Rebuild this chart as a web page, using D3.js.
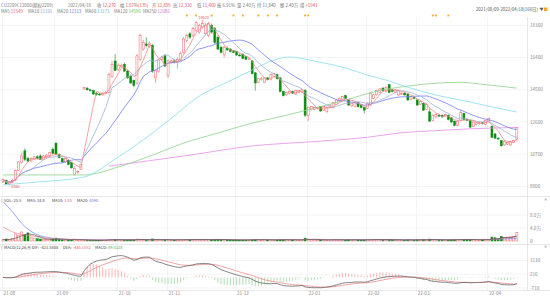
<!DOCTYPE html>
<html><head><meta charset="utf-8">
<script src="https://cdn.jsdelivr.net/npm/d3@7/dist/d3.min.js"></script>
<style>
body{margin:0;background:#fff}
svg{display:block;font-family:"Noto Sans CJK SC","Noto Sans",sans-serif}
</style>
</head><body>
<svg id="chart" width="550" height="297"></svg>
<script>
// daily OHLC, 2021/08/09 - 2022/04/18
const open = [9100,9150,8950,9050,9150,9750,10200,10900,10450,10300,10400,10550,10600,10400,10550,10600,11000,11350,10700,10450,10250,10350,10200,9500,9650,9800,
  14550,14600,14500,14450,14300,14250,14200,14300,14350,15300,16200,15700,15850,16000,15600,15300,15050,14900,16300,16900,17200,17050,17100,15200,15600,16300,16500,15350,16100,16200,16100,16250,16700,17400,17800,17700,18000,17900,18200,17800,17700,18300,18100,17600,17000,16600,16950,16900,16800,16750,16550,16600,16450,16300,
  16200,15500,14950,15100,14950,15200,15100,15300,15400,15200,14400,14200,14300,14400,14250,14350,14350,14450,13000,13350,13350,13400,13500,13300,13200,13450,13450,13650,13850,13950,14150,13900,13550,13500,13750,13600,13450,13400,13600,14000,
  14200,14350,14600,14400,14800,14500,14350,14200,14250,14300,14250,13950,14050,13900,13650,13700,13350,13200,12700,12900,13000,13000,12950,13000,12850,12650,12400,12700,13100,12750,12700,12350,12450,12500,12550,12450,12650,12350,11900,11650,11500,11250,11300,11250,11400,11600];
const high = [9250,9200,9100,9250,9800,10300,10800,11050,10550,10500,10600,10650,10700,10650,10700,10850,11100,11450,10750,10500,10500,10400,10250,10000,9750,10150,
  14650,14650,14550,14500,14350,14300,14350,14450,15500,16200,16600,16050,16050,16100,15700,15400,15100,16600,17800,17450,17600,17350,17200,15700,16350,16500,16600,16300,16300,16300,16400,16750,17600,17800,17900,18200,18550,18400,18620,18450,18500,18400,18200,17700,17100,17100,17050,16950,16850,16800,16650,16650,16500,16400,
  16250,15550,15200,15250,15250,15250,15450,15500,15450,15250,14450,14400,14450,14450,14500,14500,14550,14550,13500,13550,13500,13500,13550,13550,13500,13650,13800,13950,14050,14150,14200,13950,13750,13800,13800,13650,13500,13750,14350,14250,
  14500,14600,14650,14700,14850,14550,14550,14500,14350,14350,14300,14150,14100,13950,13850,13750,13700,13400,13050,13100,13050,13050,13100,13050,12900,12700,12700,13300,13150,12800,12750,12650,12600,12600,12600,12750,12850,12400,11950,11700,11550,11500,11450,11500,11550,12310];
const low = [9000,8900,8850,9000,9100,9700,10150,10300,10250,10250,10350,10400,10350,10350,10450,10550,10700,10650,10450,10200,10200,10050,9850,9450,9550,9750,
  14500,14450,14400,14200,14150,14150,14150,14250,14300,15200,15600,15600,15800,15550,15150,14850,14650,14800,16200,16800,17000,16950,15500,14900,15500,16200,15850,15200,16000,16050,15750,16200,16600,17300,17500,17600,17900,17800,18100,17700,17600,17800,17200,16850,16650,16400,16800,16700,16650,16500,16450,16300,16250,16250,
  15400,14450,14900,15050,14900,15050,15050,15250,15100,14350,14100,14150,14250,14250,14200,14300,14300,12900,12650,13300,13300,13350,13200,13250,13150,13400,13400,13600,13800,13900,13950,13550,13500,13450,13450,13400,13100,13350,13550,13950,
  14150,14300,14400,14350,14300,14350,14300,14150,14200,14150,13850,13900,13950,13550,13600,13250,13300,12600,12650,12850,12900,12850,12900,12700,12550,12350,12350,12650,12700,12650,12250,12300,12400,12450,12450,12400,12600,11650,11600,11550,11150,11200,11250,11200,11350,11460];
const close = [9200,8950,9050,9150,9750,10250,10600,10400,10300,10450,10550,10450,10400,10600,10650,10800,10750,10700,10500,10250,10450,10100,9900,9850,9700,10100,
  14620,14500,14450,14250,14230,14200,14280,14350,15400,16000,15650,15950,15950,15600,15200,14900,14750,16500,17700,17300,17100,17250,15600,15650,16250,16400,15900,16200,16200,16150,16300,16650,17500,17700,17600,18100,18450,18300,18400,18300,18400,17900,17300,16900,16700,17000,16850,16750,16700,16550,16500,16350,16300,16320,
  15450,14900,15150,15150,15200,15100,15400,15450,15150,14400,14150,14350,14400,14300,14450,14450,14500,13000,13450,13500,13450,13450,13250,13500,13450,13600,13750,13900,14000,14100,14000,13600,13700,13750,13500,13450,13300,13700,14300,14200,
  14450,14550,14450,14650,14350,14400,14500,14450,14300,14200,13900,14100,14000,13600,13800,13300,13650,12650,13000,13050,12950,12900,13050,12750,12600,12400,12650,13150,12750,12700,12300,12600,12550,12550,12500,12700,12800,11700,11650,11600,11200,11450,11400,11450,11500,12270];
const volume = [4000,6000,5000,8000,22000,18000,28000,20000,25000,12000,9000,7000,6000,5000,4000,5000,6000,9000,5000,4000,3000,3500,4000,6000,3000,3500,
  2500,1500,1800,2500,2000,1800,2000,2500,5000,5500,4500,3000,2500,3000,3500,4000,3500,6000,5500,4000,3000,3000,6500,4500,4000,3000,3500,5000,3000,2500,3500,4000,5000,4500,3500,4000,5000,4500,4000,4500,4000,3500,5000,5500,4000,4000,3000,2500,3000,3500,2500,3000,2500,2500,
  5000,5500,4000,3000,3500,3000,3500,3000,3000,5000,4500,3500,3000,3000,3500,3000,3500,9000,6000,4000,3500,3000,3500,3500,3000,3500,4000,4000,3500,3500,3000,4000,3000,3500,3500,3000,3500,4000,5500,4000,
  4500,4000,3500,4000,5000,3500,3000,3500,3000,2500,4000,3500,3000,4000,3500,4500,3500,6000,5000,3500,3000,3000,3000,3500,4000,4500,4000,5500,4500,3000,5000,4500,3500,3000,3500,4500,4000,12000,10000,6000,14000,11000,12000,13000,15000,25500];

// long moving averages as [candle index, value]
const ma60Pts = [[0,8890],[10,9050],[26,9360],[37,10540],[45,11540],[53,12660],[63,14130],[72,14950],[80,15660],[87,16250],[92,16430],[100,16190],[110,15780],[117,15370],[123,15070],[130,14650],[140,14150],[150,13780],[158,13450],[165,13190]];
const ma120Pts = [[0,9480],[26,9480],[37,9950],[48,10650],[58,11360],[69,11950],[80,12540],[90,12950],[100,13420],[110,13895],[120,14420],[130,14720],[140,14900],[147,14940],[155,14800],[165,14600]];
const ma250Pts = [[34,10000],[60,10650],[80,11190],[100,11450],[117,11700],[127,11950],[140,12100],[150,12200],[165,12280]];
const volMa10Pts = [[0,43000],[4,25000],[8,18000],[13,10000],[20,5000],[30,3500],[60,4000],[97,4500],[130,3500],[156,5000],[165,14000]];
const volMa20Pts = [[0,121000],[3,90000],[6,54000],[10,24000],[15,10000],[21,5000],[30,4000],[60,4200],[100,4300],[130,3800],[156,4500],[165,8600]];

const monthIdx = [0,17,37,53,75,98,117,133,156];
const monthLabels = ["21-08","21-09","21-10","21-11","21-12","22-01","22-02","22-03","22-04"];
const priceTicks = [8800,10700,12600,14500,16400,18300];
const volTicks = [0,40000,80000];
const volTickLabels = ["0","4.0万","8.0万"];
const macdTicks = [-710,210,1130];
const eventIdx = [59,62,67,74,77,82,85,88,97,98,138,139,143];

// header quote line: [x, label, value, value colour]
const quoteItems = [[1,"CU2209C12000(期权2209)","", "g"],[68,"2022/04/18","","g"],[97,"收","12,270","r"],[120,"幅","1.07%(135)","r"],
  [152,"开","11,895","r"],[173,"高","12,310","r"],[197,"低","11,460","r"],[217,"振","6.91%","g"],[237,"量","2.40万","g"],
  [257,"持","11,840","g"],[280,"额","2.40万","g"],[300,"增","+1941","r"]];
const maItems = [[1,"MA5","11549","#e8606a"],[28,"MA10","11101","#8fa3d0"],[57,"MA20","12113","#5f6ff0"],
  [85,"MA60","13173","#5cc8e8"],[114,"MA120","14596","#5cbf5c"],[143,"MA250","12086","#d070d8"]];
const volItems = [[4,"VOL:","25.5","#444"],[27,"MA5:","18.8","#444"],[52,"MA10:","1.85","#e8606a"],[77,"MA20:","8590","#5f6ff0"]];
const macdItems = [[4,"MACD(12,26,9) DIF:","-421.5888","#444"],[63,"DEA:","-446.1052","#e8606a"],[95,"MACD:","49.0328","#4caf50"]];

const N = close.length;
const RED = "#f25f66", GREEN = "#0e8c15";
const svg = d3.select("#chart");

const x = d3.scaleBand().domain(d3.range(N)).range([1.5, 518.4]);
const cx = i => x(i) + x.bandwidth() / 2;
const bw = 2;
const yP = d3.scaleLinear().domain([8800, 18300]).range([186.5, 25.3]);
const yV = d3.scaleLinear().domain([0, 40000]).range([241, 228]);
const yM = d3.scaleLinear().domain([-710, 1130]).range([288, 260.5]);

const PR = 527; // right edge of plots

function sma(arr, n) {
  return arr.map((_, i) => d3.mean(arr.slice(Math.max(0, i - n + 1), i + 1)));
}

// MACD from closes
let e12 = close[0], e26 = close[0], dea = 0;
const dif = [], deaArr = [], hist = [];
close.forEach(c => {
  e12 = e12 * 11 / 13 + c * 2 / 13;
  e26 = e26 * 25 / 27 + c * 2 / 27;
  const d = e12 - e26;
  dea = dea * 8 / 10 + d * 2 / 10;
  dif.push(d); deaArr.push(dea); hist.push(2 * (d - dea));
});

// grid
const grid = svg.append("g").attr("stroke", "#ececec").attr("stroke-width", 0.6);
grid.selectAll("line.v").data(monthIdx).join("line")
  .attr("x1", d => Math.round(x(d)) + 0.5).attr("x2", d => Math.round(x(d)) + 0.5)
  .attr("y1", 17).attr("y2", 290);
grid.selectAll("line.p").data(priceTicks).join("line")
  .attr("x1", 0).attr("x2", PR).attr("y1", d => yP(d)).attr("y2", d => yP(d));
grid.selectAll("line.vv").data(volTicks.slice(1)).join("line")
  .attr("x1", 0).attr("x2", PR).attr("y1", d => yV(d)).attr("y2", d => yV(d));
grid.selectAll("line.m").data(macdTicks).join("line")
  .attr("x1", 0).attr("x2", PR).attr("y1", d => yM(d)).attr("y2", d => yM(d));

const sep = svg.append("g").attr("stroke", "#dcdcdc").attr("stroke-width", 0.7);
[196.5, 244.5, 290.5].forEach(y => sep.append("line").attr("x1", 0).attr("x2", 550).attr("y1", y).attr("y2", y));
sep.append("line").attr("x1", PR + 0.5).attr("x2", PR + 0.5).attr("y1", 17).attr("y2", 290);

// right axis labels
const axT = svg.append("g").attr("fill", "#888").attr("font-size", 4.6);
axT.selectAll("text.p").data(priceTicks).join("text")
  .attr("x", 530).attr("y", d => yP(d) + 1.6).text(d => d);
axT.selectAll("text.v").data(volTicks).join("text")
  .attr("x", 530).attr("y", d => yV(d) + 1.6).text((d, i) => volTickLabels[i]);
axT.selectAll("text.m").data(macdTicks).join("text")
  .attr("x", 530).attr("y", d => yM(d) + 1.6).text(d => d);
axT.selectAll("text.x").data(monthIdx).join("text")
  .attr("x", d => x(d) + 2).attr("y", 295).text((d, i) => monthLabels[i]);

// candles
const main = svg.append("g");
const idx = d3.range(N);
const up = i => close[i] >= open[i];
main.selectAll("line.wick").data(idx).join("line")
  .attr("x1", cx).attr("x2", cx)
  .attr("y1", i => yP(high[i])).attr("y2", i => yP(low[i]))
  .attr("stroke", i => up(i) ? RED : GREEN).attr("stroke-width", 0.6);
main.selectAll("rect.body").data(idx).join("rect")
  .attr("x", i => cx(i) - bw / 2).attr("width", bw)
  .attr("y", i => yP(Math.max(open[i], close[i])))
  .attr("height", i => Math.max(0.6, Math.abs(yP(open[i]) - yP(close[i]))))
  .attr("fill", i => up(i) ? "#fff" : GREEN)
  .attr("stroke", i => up(i) ? RED : GREEN).attr("stroke-width", 0.5);

// moving averages
const lineIdx = d3.line().x((d, i) => cx(i)).y(d => yP(d));
const linePts = d3.line().x(d => cx(d[0])).y(d => yP(d[1])).curve(d3.curveMonotoneX);
const maLayer = svg.append("g").attr("fill", "none").attr("stroke-width", 0.8);
maLayer.append("path").attr("d", linePts(ma250Pts)).attr("stroke", "#e58de8");
maLayer.append("path").attr("d", linePts(ma120Pts)).attr("stroke", "#8ed28b");
maLayer.append("path").attr("d", linePts(ma60Pts)).attr("stroke", "#86dcef");
maLayer.append("path").attr("d", lineIdx(sma(close, 20))).attr("stroke", "#6f7cf0");
maLayer.append("path").attr("d", lineIdx(sma(close, 10))).attr("stroke", "#9fb2d8");
maLayer.append("path").attr("d", lineIdx(sma(close, 5))).attr("stroke", "#f08a8a");

// extreme labels
svg.append("text").attr("x", cx(64) - 4).attr("y", yP(18620) - 1).attr("font-size", 3.8).attr("fill", "#e0505a").text("18620");
svg.append("text").attr("x", cx(2) + 2).attr("y", yP(8850) + 2).attr("font-size", 3.8).attr("fill", "#e0505a").text("8850");

// event markers
svg.selectAll("rect.ev").data(eventIdx).join("rect")
  .attr("x", i => cx(i) - 0.9).attr("y", 14.6).attr("width", 1.8).attr("height", 1.8).attr("fill", "#f5a623");

// volume
svg.selectAll("rect.vol").data(idx).join("rect")
  .attr("x", i => cx(i) - bw / 2).attr("width", bw)
  .attr("y", i => yV(volume[i])).attr("height", i => yV(0) - yV(volume[i]))
  .attr("fill", i => up(i) ? "#fff" : GREEN)
  .attr("stroke", i => up(i) ? RED : GREEN).attr("stroke-width", 0.5);
const lineV = d3.line().x((d, i) => cx(i)).y(d => yV(d));
const lineVP = d3.line().x(d => cx(d[0])).y(d => yV(d[1])).curve(d3.curveMonotoneX);
const vLayer = svg.append("g").attr("fill", "none").attr("stroke-width", 0.7);
vLayer.append("path").attr("d", lineVP(volMa20Pts)).attr("stroke", "#6f7cf0");
vLayer.append("path").attr("d", lineVP(volMa10Pts)).attr("stroke", "#f08a8a");
vLayer.append("path").attr("d", lineV(sma(volume, 5))).attr("stroke", "#555");

// MACD marks
svg.selectAll("line.hist").data(idx).join("line")
  .attr("x1", cx).attr("x2", cx).attr("y1", yM(0)).attr("y2", i => yM(hist[i]))
  .attr("stroke", i => hist[i] >= 0 ? "#f59a9a" : "#8fcf8f").attr("stroke-width", 0.7);
const lineM = d3.line().x((d, i) => cx(i)).y(d => yM(d));
svg.append("path").attr("d", lineM(deaArr)).attr("fill", "none").attr("stroke", "#f08a8a").attr("stroke-width", 0.8);
svg.append("path").attr("d", lineM(dif)).attr("fill", "none").attr("stroke", "#666").attr("stroke-width", 0.8);

// legend rows
const G = "#777", R = "#e0505a";
function legendRow(items, y, size, labelColor) {
  items.forEach(([xp, label, value, col]) => {
    const t = svg.append("text").attr("x", xp).attr("y", y).attr("font-size", size);
    t.append("tspan").attr("fill", labelColor).text(label);
    if (value) t.append("tspan").attr("dx", 1).attr("fill", col === "r" ? R : col === "g" ? G : col).text(value);
  });
}
legendRow(quoteItems, 6.5, 4.4, G);
legendRow(maItems, 13, 4.4, G);
legendRow(volItems, 201.5, 4.0, "#444");
legendRow(macdItems, 248.5, 4.0, "#444");
svg.selectAll("text.pane").data([201.5, 248.5]).join("text")
  .attr("x", 0.5).attr("y", d => d).attr("font-size", 4.2).attr("fill", "#999").text("⌈");

svg.append("text").attr("x", 538).attr("y", 11).attr("font-size", 4.4).attr("text-anchor", "end").attr("fill", "#555")
  .text("2021/08/09-2022/04/18(166日)");
svg.append("text").attr("x", 539.5).attr("y", 11).attr("font-size", 4).attr("fill", "#555").text("▼");
svg.append("rect").attr("x", 544).attr("y", 7.5).attr("width", 3.5).attr("height", 3.5).attr("fill", "#f5a623");
svg.append("text").attr("x", 544).attr("y", 201).attr("font-size", 4.2).attr("fill", "#888").text("✕");
svg.append("text").attr("x", 544).attr("y", 248).attr("font-size", 4.2).attr("fill", "#888").text("✕");
</script>
</body></html>
